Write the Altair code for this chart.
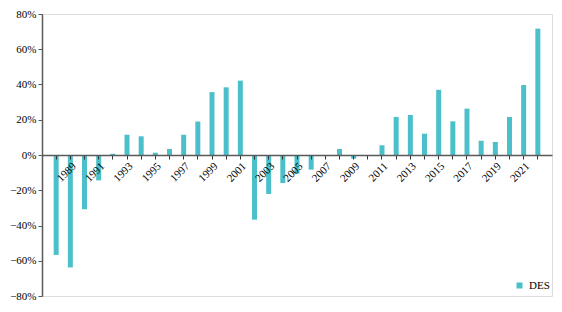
import altair as alt
import pandas as pd

years = [str(y) for y in range(1988, 2023)]
values = [-56.7, -63.8, -30.8, -14.4, 0.7, 11.5, 10.6, 1.3, 3.4, 11.5,
          19.0, 35.7, 38.4, 42.2, -36.7, -22.1, -15.9, -10.6, -8.3, 0.0,
          3.4, -2.1, 0.0, 5.5, 21.6, 22.7, 12.1, 37.0, 19.1, 26.3,
          8.1, 7.4, 21.6, 39.7, 71.7]
series = ["DES"] * len(years)

df = pd.DataFrame({"year": years, "value": [v / 100 for v in values], "series": series})

font = "Liberation Serif"
axis_color = "#595959"

chart = alt.Chart(df).mark_bar(size=5).encode(
    x=alt.X("year:N", sort=years, title=None,
            scale=alt.Scale(paddingInner=0, paddingOuter=0.5),
            axis=alt.Axis(labelAngle=-45, offset=-141, domainColor=axis_color,
                          tickColor="#333333", tickSize=4, labelFont=font,
                          labelFontSize=11, labelColor="#000000", labelPadding=1,
                          labelExpr="parseInt(datum.value) % 2 == 1 ? datum.value : ''",
                          domainWidth=1.5, zindex=1)),
    y=alt.Y("value:Q", title=None,
            scale=alt.Scale(domain=[-0.8, 0.8], nice=False),
            axis=alt.Axis(format=".0%", values=[-0.8, -0.6, -0.4, -0.2, 0, 0.2, 0.4, 0.6, 0.8],
                          grid=False, domainColor=axis_color, tickColor=axis_color,
                          tickSize=4, labelFont=font, labelFontSize=11,
                          labelColor="#000000", domainWidth=1.5)),
    color=alt.Color("series:N", title=None,
                    scale=alt.Scale(range=["#4BC0CB"]),
                    legend=alt.Legend(orient="none", legendX=472, legendY=266,
                                      symbolType="square", symbolSize=36,
                                      labelFont=font, labelFontSize=11,
                                      labelColor="#000000", symbolStrokeWidth=0)),
).properties(
    width=510, height=282,
    autosize=alt.AutoSizeParams(type="none"),
    padding={"left": 34, "top": 6, "right": 2, "bottom": 8},
).configure_view(stroke=None).configure(font=font)

chart.save("out.html", embed_options={"renderer": "svg", "actions": False})
